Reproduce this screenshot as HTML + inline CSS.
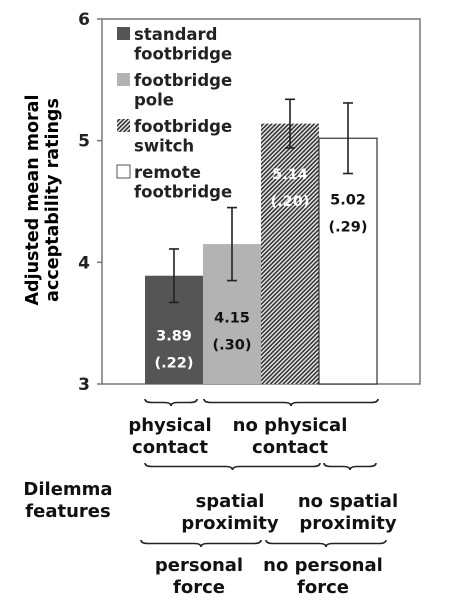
<!DOCTYPE html>
<html><head><meta charset="utf-8">
<style>
html,body{margin:0;padding:0;background:#fff;}
svg{display:block;font-family:"DejaVu Sans","Liberation Sans",sans-serif;font-weight:bold;}
</style></head>
<body>
<svg id="chart" width="457" height="607" viewBox="0 0 457 607">
<defs>
<pattern id="hatch" width="3" height="3" patternUnits="userSpaceOnUse" patternTransform="rotate(45)">
<rect width="3" height="3" fill="#eee"/>
<rect width="1.6" height="3" fill="#333"/>
</pattern>
</defs>
<g id="plot"></g>
<g id="legend"></g>
<text transform="translate(38,200) rotate(-90)" text-anchor="middle" font-size="17.5"><tspan x="0" dy="0">Adjusted mean moral</tspan><tspan x="0" dy="20">acceptability ratings</tspan></text>
<g id="features" font-size="18" text-anchor="middle" fill="#111"></g>
</svg>
<script>
const categories=["standard footbridge","footbridge pole","footbridge switch","remote footbridge"];
const means=[3.89,4.15,5.14,5.02];
const ses=[0.22,0.30,0.20,0.29];
const meanLabels=["3.89","4.15","5.14","5.02"];
const seLabels=["(.22)","(.30)","(.20)","(.29)"];
const yTicks=[3,4,5,6];
const legendLines=[["standard","footbridge"],["footbridge","pole"],["footbridge","switch"],["remote","footbridge"]];

const NS="http://www.w3.org/2000/svg";
const X0=102,X1=420,Y0=384,Y1=19,YMIN=3,YMAX=6;
const barLeft=145,barW=58;
function y(v){return Y0-(v-YMIN)/(YMAX-YMIN)*(Y0-Y1);}
function xb(i){return barLeft+i*barW;}
const fills=["#555","#b3b3b3","url(#hatch)","#fff"];
const txtCol=["#fff","#111","#fff","#111"];
function mk(tag,attrs,parent){const e=document.createElementNS(NS,tag);for(const k in attrs)e.setAttribute(k,attrs[k]);parent.appendChild(e);return e;}
const plot=document.getElementById('plot');
const frame=mk('rect',{x:X0,y:Y1,width:X1-X0,height:Y0-Y1,fill:'#fff',stroke:'#777','stroke-width':1.5},plot);


yTicks.forEach(t=>{
  const l=mk('line',{x1:X0-5,x2:X0,y1:y(t),y2:y(t),stroke:'#777','stroke-width':1.5},plot);
  
  
  const tx=mk('text',{x:X0-18,y:y(t)+6,'font-size':17,'text-anchor':'middle',fill:'#222'},plot);
  tx.textContent=t;
  
  
});
categories.forEach((c,i)=>{
  const top=y(means[i]);
  const r=mk('rect',{x:xb(i),y:top,width:barW,height:Y0-top,fill:fills[i],stroke:i==3?'#333':'none','stroke-width':1.2},plot);
  
  
  const cx=xb(i)+barW/2;
  const e=mk('g',{stroke:'#222','stroke-width':1.6},plot);
  
  
  const hi=y(means[i]+ses[i]),lo=y(means[i]-ses[i]);
  mk('line',{x1:cx,x2:cx,y1:hi,y2:lo},e);
  mk('line',{x1:cx-5,x2:cx+5,y1:hi,y2:hi},e);
  mk('line',{x1:cx-5,x2:cx+5,y1:lo,y2:lo},e);
  const offs=[38,42,31,31][i];
  const m=mk('text',{x:cx,y:lo+offs,'font-size':14.5,'text-anchor':'middle',fill:txtCol[i]},plot);
  m.textContent=meanLabels[i];
  
  
  const s=mk('text',{x:cx,y:lo+offs+27,'font-size':14.5,'text-anchor':'middle',fill:txtCol[i]},plot);
  s.textContent=seLabels[i];
  
  
});
const leg=document.getElementById('legend');
legendLines.forEach((ln,i)=>{
  const by=27+i*46;
  const sw=mk('rect',{x:117,y:by,width:13,height:13,fill:fills[i],stroke:i==3?'#555':'none'},leg);
  
  
  const t=mk('text',{x:134,y:by+13,'font-size':16.5,fill:'#222'},leg);
  
  
  const a=mk('tspan',{x:134,dy:0},t);a.textContent=ln[0];
  const b=mk('tspan',{x:134,dy:19.5},t);b.textContent=ln[1];
});
const feat=document.getElementById('features');
function brace(x1,x2,yy,name){
  const m=(x1+x2)/2,h=7;
  const p=mk('path',{d:`M${x1},${yy} q0,${h/2} ${h},${h/2} L${m-h},${yy+h/2} q${h},0 ${h},${h/2} q0,-${h/2} ${h},-${h/2} L${x2-h},${yy+h/2} q${h},0 ${h},-${h/2}`,fill:'none',stroke:'#222','stroke-width':1.6},feat);
  
  
}
function label(cx,y1,l1,l2,name){
  const t=mk('text',{x:cx,y:y1},feat);
  
  
  const a=mk('tspan',{x:cx,dy:0},t);a.textContent=l1;
  const b=mk('tspan',{x:cx,dy:22}, t);b.textContent=l2;
}
brace(145,197,399,'brace-physical-contact');
brace(204,378,399,'brace-no-physical-contact');
label(170,431,'physical','contact','label-physical-contact');
label(290,431,'no physical','contact','label-no-physical-contact');
brace(145,320,463,'brace-spatial-proximity');
brace(324,376,463,'brace-no-spatial-proximity');
label(68,495,'Dilemma','features','dilemma-features-label');
label(230,507,'spatial','proximity','label-spatial-proximity');
label(348,507,'no spatial','proximity','label-no-spatial-proximity');
brace(141,261,540,'brace-personal-force');
brace(266,386,540,'brace-no-personal-force');
label(199,571,'personal','force','label-personal-force');
label(323,571,'no personal','force','label-no-personal-force');
</script>
</body></html>
